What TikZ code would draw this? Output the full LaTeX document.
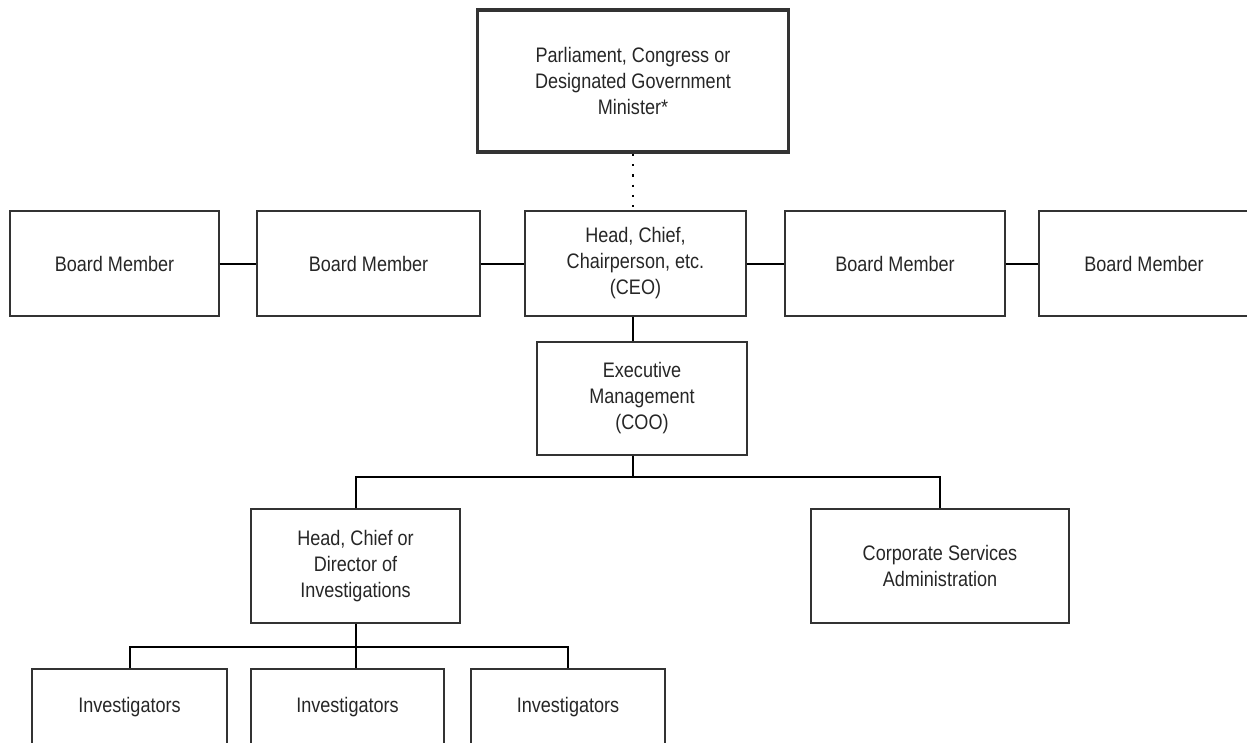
\documentclass[tikz,border=0pt]{standalone}
\usepackage{fontspec}
\setmainfont{Liberation Sans}[FakeStretch=0.86]
\begin{document}
\begin{tikzpicture}[x=1pt,y=-1pt,
	box/.style={draw=black!80,line width=1.4pt,align=center,inner sep=0pt,
		font=\fontsize{21}{26}\selectfont,text=black!85},
	link/.style={line width=2pt}]
	\useasboundingbox (0,0) rectangle (1247,742);
	% top
	\node[box,line width=3.5pt,minimum width=311pt,minimum height=142pt] (parl) at (633,81) {Parliament, Congress or\\Designated Government\\Minister*};
	% board row
	\node[box,minimum width=209pt,minimum height=105pt] (bmA) at (114.5,263.5) {Board Member};
	\node[box,minimum width=223pt,minimum height=105pt] (bmB) at (368.5,263.5) {Board Member};
	\node[box,minimum width=221pt,minimum height=105pt] (ceo) at (635.5,263.5) {Head, Chief,\\Chairperson, etc.\\(CEO)};
	\node[box,minimum width=220pt,minimum height=105pt] (bmC) at (895,263.5) {Board Member};
	\node[box,minimum width=210pt,minimum height=105pt] (bmD) at (1144,263.5) {Board Member};
	\node[box,minimum width=210pt,minimum height=113pt] (coo) at (642,398.5) {Executive\\Management\\(COO)};
	\node[box,minimum width=209pt,minimum height=114pt] (head) at (355.5,566) {Head, Chief or\\Director of\\Investigations};
	\node[box,minimum width=258pt,minimum height=114pt] (corp) at (940,566) {Corporate Services\\Administration};
	% investigators
	\node[box,minimum width=195pt,minimum height=76pt] (invA) at (129.5,707) {Investigators};
	\node[box,minimum width=193pt,minimum height=76pt] (invB) at (347.5,707) {Investigators};
	\node[box,minimum width=194pt,minimum height=76pt] (invC) at (568,707) {Investigators};

	\draw[link,line width=2.2pt,dash pattern=on 2.2pt off 8.1pt] (parl.south) -- (parl.south |- ceo.north);
	\draw[link] (bmA)--(bmB) (bmB)--(ceo) (ceo)--(bmC) (bmC)--(bmD);
	\draw[link] (ceo.south -| parl.south) -- (coo.north -| parl.south);
	\draw[link] (coo.south -| parl.south) -- ++(0,21) coordinate (split);
	\draw[link] (head.north) |- (split) -| (corp.north);
	\draw[link] (head.south) -- (head.south |- invB.north);
	\path (head.south) ++(0,23) coordinate (fork);
	\draw[link] (invA.north) |- (fork) -| (invC.north);
\end{tikzpicture}
\end{document}
